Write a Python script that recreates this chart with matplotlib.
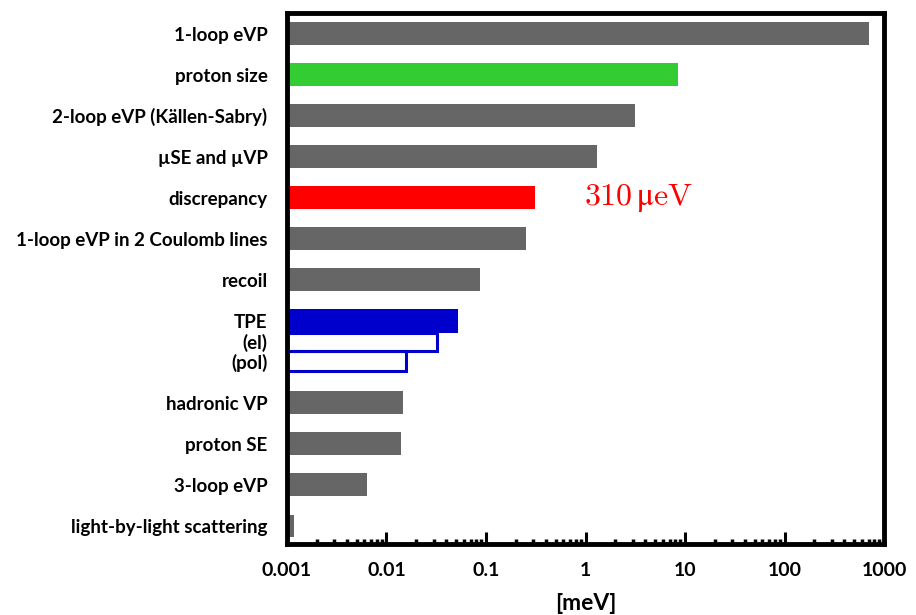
import matplotlib.pyplot as plt
import numpy as np

# contributions to the muonic hydrogen Lamb shift, in meV
labels = ['1-loop eVP', 'proton size', '2-loop eVP (Källen-Sabry)', 'µSE and µVP',
          'discrepancy', '1-loop eVP in 2 Coulomb lines', 'recoil', 'TPE',
          'hadronic VP', 'proton SE', '3-loop eVP', 'light-by-light scattering']
values = [708, 8.46, 3.12, 1.29, 0.31, 0.255, 0.0878, 0.0527,
          0.0147, 0.0141, 0.0064, 0.00118]
rows = [0, 1, 2, 3, 4, 5, 6, 7, 9, 10, 11, 12]
colors = ['#666666', '#33cc33', '#666666', '#666666', '#ff0000', '#666666',
          '#666666', '#0000cc', '#666666', '#666666', '#666666', '#666666']

# TPE split into elastic and polarizability parts
tpe_parts = ['(el)', '(pol)']
tpe_values = [0.0324, 0.0158]
tpe_rows = [7.51, 7.98]
tpe_heights = [0.44, 0.49]

discrepancy_label = r'$310\,\mathrm{μeV}$'

XMIN = 1e-3

plt.rcParams['font.family'] = ['Lato', 'DejaVu Sans']
plt.rcParams['mathtext.fontset'] = 'cm'
plt.rcParams['mathtext.fallback'] = 'stix'

fig = plt.figure(figsize=(9.16, 6.15), dpi=100)
ax = fig.add_axes([0.3133, 0.1154, 0.6518, 0.8635])

heights = [0.58 if r == 7 else 0.56 for r in rows]
ax.barh(rows, np.array(values) - XMIN, height=heights, left=XMIN,
        color=colors, zorder=2)
ax.barh(tpe_rows, np.array(tpe_values) - XMIN, height=tpe_heights, left=XMIN,
        facecolor='none', edgecolor='#0000cc', linewidth=2.2, zorder=2)

ax.text(0.96, 4, discrepancy_label, color='#ff0000', fontsize=23,
        fontweight='normal', va='center', ha='left')

ax.set_xscale('log')
ax.set_xlim(XMIN, 1e3)
ax.set_ylim(12.44, -0.51)

ax.set_yticks(rows + tpe_rows)
ax.set_yticklabels(labels + tpe_parts, fontsize=13.5, fontweight='bold')
ax.tick_params(axis='y', length=0, pad=14)

ax.set_xticks([1e-3, 1e-2, 1e-1, 1, 10, 100, 1000])
ax.set_xticklabels(['0.001', '0.01', '0.1', '1', '10', '100', '1000'],
                   fontsize=14, fontweight='bold')
ax.tick_params(axis='x', which='major', direction='in', length=9, width=2.2, pad=13)
ax.tick_params(axis='x', which='minor', direction='in', length=3.5, width=2.5)
ax.set_xlabel('[meV]', fontsize=16.5, fontweight='bold', labelpad=10)

for side in ['left', 'right', 'top', 'bottom']:
    ax.spines[side].set_linewidth(3.5)

fig.savefig('out.png', dpi=100)
